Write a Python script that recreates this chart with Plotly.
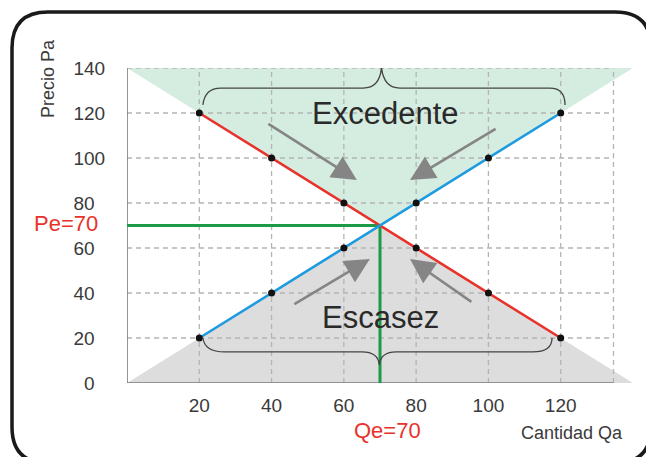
import plotly.graph_objects as go

# ---------------- data ----------------
quantities = [20, 40, 60, 80, 100, 120]
demand_price = [120, 100, 80, 60, 40, 20]
supply_price = [20, 40, 60, 80, 100, 120]
Qe, Pe = 70, 70
x_ticks = [20, 40, 60, 80, 100, 120]
y_ticks = [0, 20, 40, 60, 80, 100, 120, 140]
x_max, y_max = 140, 140
grid_end = 134.6

FONT = "Liberation Sans, Arial, sans-serif"
RED = "#e8322c"
BLUE = "#1e9be0"
GREEN = "#1c9a46"
MINT = "#d5ece0"
GREYFILL = "#dddddd"

# page layout (the page body adds an 8px offset)
OFF = 8
W, H = 654, 457
L_M, T_M, PW, PH = 127, 68, 506, 315   # plot area in page pixels

fig = go.Figure()

# filled regions (surplus above, shortage below)
fig.add_trace(go.Scatter(x=[0, Qe, x_max, 0], y=[y_max, Pe, y_max, y_max],
                         fill="toself", fillcolor=MINT, line=dict(width=0),
                         mode="lines", hoverinfo="skip", showlegend=False))
fig.add_trace(go.Scatter(x=[0, Qe, x_max, 0], y=[0, Pe, 0, 0],
                         fill="toself", fillcolor=GREYFILL, line=dict(width=0),
                         mode="lines", hoverinfo="skip", showlegend=False))

# dashed grid
gx, gy = [], []
for v in y_ticks[1:]:
    gx += [0, grid_end, None]
    gy += [v, v, None]
for v in x_ticks + [grid_end]:
    gx += [v, v, None]
    gy += [0, y_max, None]
fig.add_trace(go.Scatter(x=gx, y=gy, mode="lines",
                         line=dict(color="#b4b4b4", width=1.3, dash="5px,4px"),
                         hoverinfo="skip", showlegend=False))

# axis lines
fig.add_trace(go.Scatter(x=[0, 0, None, 0, grid_end], y=[y_max, 0, None, 0, 0],
                         mode="lines", line=dict(color="#7a7a7a", width=1.6),
                         hoverinfo="skip", showlegend=False))

# equilibrium guide lines
fig.add_trace(go.Scatter(x=[0, Qe, Qe], y=[Pe, Pe, 0], mode="lines",
                         line=dict(color=GREEN, width=3),
                         hoverinfo="skip", showlegend=False))

# demand and supply
fig.add_trace(go.Scatter(x=quantities, y=demand_price, mode="lines",
                         line=dict(color=RED, width=2.6), showlegend=False))
fig.add_trace(go.Scatter(x=quantities, y=supply_price, mode="lines",
                         line=dict(color=BLUE, width=2.6), showlegend=False))
fig.add_trace(go.Scatter(x=quantities + quantities, y=demand_price + supply_price,
                         mode="markers", marker=dict(color="#111111", size=7),
                         showlegend=False))

# braces
brace_style = dict(color="#444444", width=1.3)
top_brace = ("M 21,123.6 Q 21.5,131.1 26,131.1 L 65.3,131.1 "
             "Q 70,131.1 70.4,140.4 Q 71,131.1 75.5,131.1 "
             "L 117,131.1 Q 121.2,131.1 121.2,123.6")
bot_brace = ("M 21,20 Q 21.5,13.8 27,13.8 L 65,13.8 "
             "Q 69.5,13.8 69.8,8 Q 70.2,13.8 74.5,13.8 "
             "L 112.3,13.8 Q 117.6,13.8 117.6,20")
shapes = [
    dict(type="path", path=top_brace, xref="x", yref="y", line=brace_style),
    dict(type="path", path=bot_brace, xref="x", yref="y", line=brace_style),
]

# rounded outer frame (page pixel -> paper coordinates)
def ppx(xp):
    return (xp - L_M) / PW
def ppy(yp):
    return (T_M + PH - yp) / PH
def px(xp, yp):
    return f"{ppx(xp):.5f},{ppy(yp):.5f}"
l, t, r, b, rad = 12, 12, 651, 463, 36
frame = (f"M {px(l, t + rad)} Q {px(l, t)} {px(l + rad, t)} "
         f"L {px(r - rad, t)} Q {px(r, t)} {px(r, t + rad)} "
         f"L {px(r, b - rad)} Q {px(r, b)} {px(r - rad, b)} "
         f"L {px(l + rad, b)} Q {px(l, b)} {px(l, b - rad)} Z")
shapes.append(dict(type="path", path=frame, xref="paper", yref="paper",
                   line=dict(color="#1a1a1a", width=3.5), layer="above"))

# arrows
arrows = [((38.7, 115.6), (63.6, 90.2)),
          ((102.4, 113.3), (78.3, 90.2)),
          ((45.9, 34.7), (67.2, 55.1)),
          ((95.7, 35.6), (78.3, 55.1))]
annotations = []
for (tx, ty), (hx, hy) in arrows:
    annotations.append(dict(x=hx, y=hy, ax=tx, ay=ty, xref="x", yref="y",
                            axref="x", ayref="y", text="", showarrow=True,
                            arrowhead=2, arrowsize=1.9, arrowwidth=2.6,
                            arrowcolor="#858585"))

def txt(x, y, s, size, color, ref="x", **kw):
    d = dict(x=x, y=y, xref="x" if ref == "x" else "paper",
             yref="y" if ref == "x" else "paper", text=s, showarrow=False,
             xanchor="center", yanchor="middle",
             font=dict(family=FONT, size=size, color=color))
    d.update(kw)
    annotations.append(d)

txt(71.4, 120, "Excedente", 31, "#2a2a2a")
txt(70, 29.3, "Escasez", 31, "#2a2a2a")
txt(ppx(100), Pe / y_max + 0.007, f"Pe={Pe}", 22, RED, ref="paper", xanchor="right")
txt(Qe / x_max + 0.014, ppy(430), f"Qe={Qe}", 22, RED, ref="paper")
txt(ppx(572), ppy(433), "Cantidad Qa", 18, "#3a3a3a", ref="paper")
txt(ppx(48), ppy(79), "Precio Pa", 18, "#3a3a3a", ref="paper", textangle=-90)

# y tick labels: shorter labels sit a little further left, as in the source
y_ticktext = [str(v) if v >= 100 else f"{v}\u00a0\u00a0" for v in y_ticks]

fig.update_layout(
    width=W - OFF, height=H - OFF,
    margin=dict(l=L_M - OFF, r=W - L_M - PW, t=T_M - OFF, b=H - T_M - PH),
    paper_bgcolor="white", plot_bgcolor="white",
    shapes=shapes, annotations=annotations,
    font=dict(family=FONT, color="#3a3a3a"),
    xaxis=dict(range=[0, x_max], tickvals=x_ticks, showgrid=False, zeroline=False,
               showline=False, ticks="outside", ticklen=5,
               tickcolor="rgba(0,0,0,0)", tickfont=dict(size=19, color="#3a3a3a")),
    yaxis=dict(range=[0, y_max], tickvals=y_ticks, ticktext=y_ticktext,
               showgrid=False, zeroline=False,
               showline=False, ticks="outside", ticklen=17,
               tickcolor="rgba(0,0,0,0)", tickfont=dict(size=19, color="#3a3a3a")),
)

fig.write_html("out.html")
